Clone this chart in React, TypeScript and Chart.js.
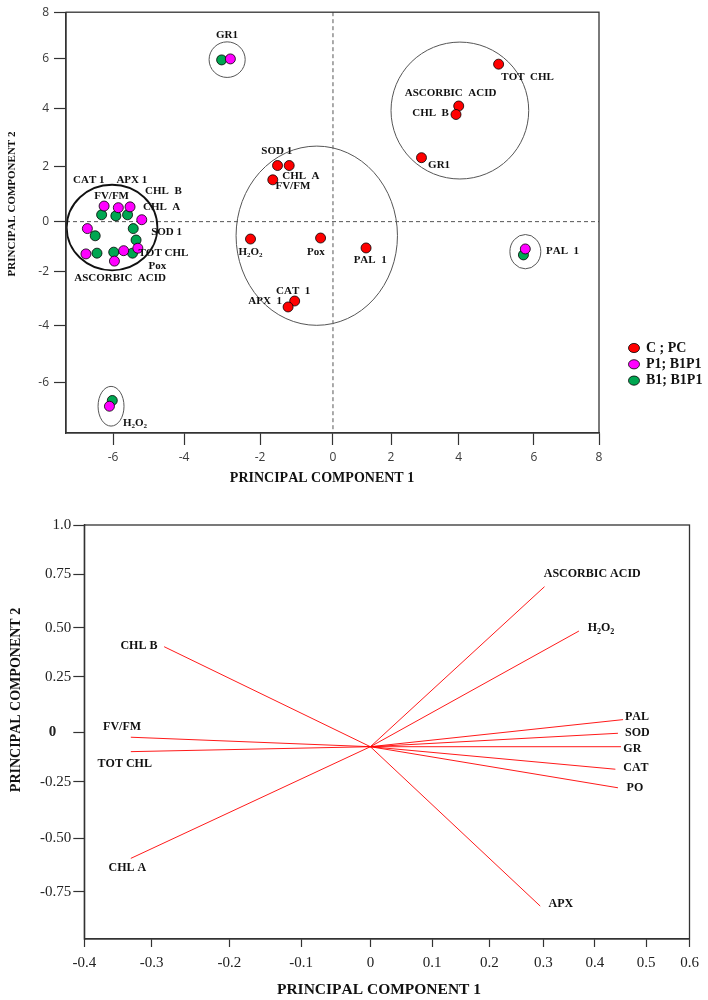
import React, { useEffect, useRef } from 'react';
import { Chart, LinearScale, registerables } from 'chart.js';

// ---------------- Score plot (top) data ----------------
const SERIES_NAMES = ['C ; PC', 'P1; B1P1', 'B1; B1P1'];
// variables: SOD1, CHL A, FV/FM, H2O2, Pox, TOT CHL, ASCORBIC ACID, CHL B, GR1, PAL1, CAT1, APX1
const C_PC_X = [-1.52, -1.2, -1.65, -2.25, -0.34, 5.06, 4.0, 3.92, 2.9, 1.14, -1.05, -1.23];
const C_PC_Y = [2.05, 2.05, 1.53, -0.7, -0.66, 5.79, 4.12, 3.81, 2.32, -1.06, -3.1, -3.32];
const P1_X = [-2.78, -6.25, -5.85, -5.52, -5.19, -6.72, -6.76, -5.7, -5.3, -5.96, 5.77, -6.1];
const P1_Y = [6.0, 0.57, 0.51, 0.54, 0.07, -0.28, -1.3, -1.17, -1.07, -1.59, -1.1, -6.81];
const B1_X = [-3.01, -6.32, -5.92, -5.59, -5.43, -6.5, -5.35, -6.45, -5.98, -5.45, 5.72, -6.02];
const B1_Y = [5.96, 0.25, 0.21, 0.25, -0.28, -0.57, -0.74, -1.27, -1.23, -1.27, -1.34, -6.61];

const SCORE_X_TICKS = [-6, -4, -2, 0, 2, 4, 6, 8];
const SCORE_Y_TICKS = [-6, -4, -2, 0, 2, 4, 6, 8];
const SCORE_X_TITLE = 'PRINCIPAL COMPONENT 1';
const SCORE_Y_TITLE = 'PRINCIPAL COMPONENT 2';

// ---------------- Loading plot (bottom) data ----------------
const LOAD_NAMES = ['CHL B', 'FV/FM', 'TOT CHL', 'CHL A', 'ASCORBIC ACID', 'H₂O₂', 'PAL', 'SOD', 'GR', 'CAT', 'PO', 'APX'];
const LOAD_PC1 = [-0.284, -0.331, -0.331, -0.331, 0.302, 0.369, 0.455, 0.445, 0.451, 0.44, 0.445, 0.294];
const LOAD_PC2 = [0.403, -0.025, -0.098, -0.594, 0.691, 0.483, 0.057, -0.005, -0.073, -0.187, -0.277, -0.817];
const LOAD_ORIGIN_PC1 = 0;
const LOAD_ORIGIN_PC2 = -0.073;

const LOAD_X_TICKS = [-0.4, -0.3, -0.2, -0.1, 0, 0.1, 0.2, 0.3, 0.4, 0.5, 0.6];
const LOAD_X_LABELS = ['-0.4', '-0.3', '-0.2', '-0.1', '0', '0.1', '0.2', '0.3', '0.4', '0.5', '0.6'];
const LOAD_Y_TICKS = [1.0, 0.75, 0.5, 0.25, 0, -0.25, -0.5, -0.75];
const LOAD_Y_LABELS = ['1.0', '0.75', '0.50', '0.25', '0', '-0.25', '-0.50', '-0.75'];

// ---------------- Layout / annotation (not data) ----------------
// axis warp tables [value, fraction of axis length] reproducing the uneven tick spacing of the figure
const WARPS: Record<string, number[][]> = {
  scoreX: [[-7.32, 0], [-6, 0.0882], [-4, 0.2214], [-2, 0.364], [0, 0.5009], [2, 0.6098], [4, 0.7368], [6, 0.878], [8, 1]],
  scoreY: [[-7.74, 0], [-6, 0.119], [-4, 0.2559], [-2, 0.3843], [0, 0.5023], [2, 0.6322], [4, 0.77], [6, 0.889], [8, 1]],
  loadX: [[-0.4, 0], [-0.3, 0.1114], [-0.2, 0.2397], [-0.1, 0.3582], [0, 0.4727], [0.1, 0.5747], [0.2, 0.6694], [0.3, 0.7587], [0.4, 0.8436], [0.5, 0.9284], [0.6, 1]],
  loadY: [[-0.97, 0], [-0.75, 0.1143], [-0.5, 0.2432], [-0.25, 0.38], [0, 0.4993], [0.25, 0.6336], [0.5, 0.7519], [0.75, 0.8816], [1, 1]],
};

const SCORE_LABELS: [string, number, number][] = [
  ['GR1', -2.87, 7.03],
  ['SOD 1', -1.54, 2.55],
  ['CHL  A', -0.88, 1.65],
  ['FV/FM', -1.1, 1.31],
  ['H₂O₂', -2.25, -1.23],
  ['Pox', -0.47, -1.23],
  ['CAT 1', -6.68, 1.53],
  ['APX 1', -5.47, 1.53],
  ['FV/FM', -6.04, 0.95],
  ['CHL  B', -4.58, 1.11],
  ['CHL  A', -4.63, 0.53],
  ['SOD 1', -4.49, -0.44],
  ['TOT CHL', -4.58, -1.26],
  ['Pox', -4.75, -1.79],
  ['ASCORBIC  ACID', -5.8, -2.27],
  ['TOT  CHL', 5.83, 5.27],
  ['ASCORBIC  ACID', 3.76, 4.62],
  ['CHL  B', 3.17, 3.86],
  ['GR1', 3.42, 2.07],
  ['PAL  1', 1.28, -1.56],
  ['PAL  1', 6.88, -1.17],
  ['CAT  1', -1.09, -2.72],
  ['APX  1', -1.86, -3.1],
  ['H₂O₂', -5.38, -7.41],
];
// [x1, x2, y1, y2, bold]
const SCORE_RINGS: [number, number, number, number, boolean][] = [
  [-3.34, -2.39, 5.26, 6.73, false],
  [-7.3, -4.75, -1.96, 1.35, true],
  [-2.63, 2.19, -4.0, 2.72, false],
  [2.0, 5.86, 1.56, 6.72, false],
  [5.36, 6.21, -1.9, -0.52, false],
  [-6.42, -5.69, -7.5, -6.12, false],
];
const LOAD_LABEL_POS: [number, number][] = [
  [-0.319, 0.408], [-0.344, 0.022], [-0.34, -0.162], [-0.336, -0.64], [0.395, 0.75], [0.412, 0.497],
  [0.482, 0.07], [0.483, -0.004], [0.473, -0.086], [0.48, -0.182], [0.478, -0.279], [0.334, -0.809],
];

const SERIES_COLORS = ['#ff0000', '#ff00ff', '#00a651'];
const SERIF = '"Liberation Serif", "Times New Roman", serif';
const SANS = '"Open Sans", "DejaVu Sans", sans-serif';

// ---------------- helpers ----------------
function interp(table: number[][], v: number, from: number, to: number) {
  const n = table.length;
  let i = 0;
  if (v >= table[n - 1][from]) i = n - 2;
  else if (v > table[0][from]) {
    while (i < n - 2 && v > table[i + 1][from]) i++;
  }
  const a = table[i];
  const b = table[i + 1];
  return a[to] + ((v - a[from]) * (b[to] - a[to])) / (b[from] - a[from]);
}

class WarpScale extends LinearScale {
  static id = 'warp';
  getPixelForValue(value: any) {
    if (value === null || value === undefined || isNaN(value)) return NaN;
    const table = WARPS[(this.options as any).warpKey];
    return this.getPixelForDecimal(interp(table, value, 0, 1));
  }
  getValueForPixel(pixel: number) {
    const table = WARPS[(this.options as any).warpKey];
    return interp(table, this.getDecimalForPixel(pixel), 1, 0);
  }
}

Chart.register(...registerables, WarpScale as any);

const SUBS: Record<string, string> = { '₀': '0', '₁': '1', '₂': '2', '₃': '3', '₄': '4' };

function drawRich(ctx: CanvasRenderingContext2D, text: string, x: number, y: number, size: number, align: string, family: string, weight = 'bold', color = '#111') {
  const parts = Array.from(text).map((ch) => (SUBS[ch] ? { t: SUBS[ch], sub: true } : { t: ch, sub: false }));
  const big = `${weight} ${size}px ${family}`;
  const small = `${weight} ${Math.round(size * 0.68)}px ${family}`;
  let total = 0;
  for (const p of parts) {
    ctx.font = p.sub ? small : big;
    total += ctx.measureText(p.t).width;
  }
  let cx = align === 'center' ? x - total / 2 : align === 'right' ? x - total : x;
  ctx.textBaseline = 'middle';
  ctx.textAlign = 'left';
  ctx.fillStyle = color;
  for (const p of parts) {
    ctx.font = p.sub ? small : big;
    ctx.fillText(p.t, cx, p.sub ? y + size * 0.28 : y);
    cx += ctx.measureText(p.t).width;
  }
}

function tickSetup(values: number[], labels: string[]) {
  return {
    afterBuildTicks: (scale: any) => {
      scale.ticks = values.map((v) => ({ value: v }));
    },
    callback: (_v: any, i: number) => labels[i],
  };
}

// ---------------- chart configs ----------------
function scoreConfig(): any {
  const xt = tickSetup(SCORE_X_TICKS, SCORE_X_TICKS.map(String));
  const yt = tickSetup(SCORE_Y_TICKS, SCORE_Y_TICKS.map(String));
  const series = [
    [C_PC_X, C_PC_Y],
    [P1_X, P1_Y],
    [B1_X, B1_Y],
  ];
  const plugin = {
    id: 'scoreDecor',
    beforeDatasetsDraw(chart: any) {
      const { ctx, chartArea: a, scales } = chart;
      const x = scales.x;
      const y = scales.y;
      ctx.save();
      ctx.setLineDash([4, 3]);
      ctx.strokeStyle = '#555';
      ctx.lineWidth = 1;
      const x0 = x.getPixelForValue(0);
      const y0 = y.getPixelForValue(0);
      ctx.beginPath();
      ctx.moveTo(x0, a.top);
      ctx.lineTo(x0, a.bottom);
      ctx.moveTo(a.left, y0);
      ctx.lineTo(a.right, y0);
      ctx.stroke();
      ctx.setLineDash([]);
      for (const [x1, x2, y1, y2, bold] of SCORE_RINGS) {
        const px1 = x.getPixelForValue(x1);
        const px2 = x.getPixelForValue(x2);
        const py1 = y.getPixelForValue(y1);
        const py2 = y.getPixelForValue(y2);
        ctx.beginPath();
        ctx.ellipse((px1 + px2) / 2, (py1 + py2) / 2, Math.abs(px2 - px1) / 2, Math.abs(py2 - py1) / 2, 0, 0, Math.PI * 2);
        ctx.strokeStyle = bold ? '#111' : '#555';
        ctx.lineWidth = bold ? 1.8 : 1;
        ctx.stroke();
      }
      ctx.restore();
    },
    afterDatasetsDraw(chart: any) {
      const { ctx, chartArea: a, scales } = chart;
      const x = scales.x;
      const y = scales.y;
      ctx.save();
      for (const [t, vx, vy] of SCORE_LABELS) {
        drawRich(ctx, t, x.getPixelForValue(vx), y.getPixelForValue(vy), 11, 'center', SERIF);
      }
      // frame
      ctx.strokeStyle = '#333';
      ctx.lineWidth = 1.3;
      ctx.strokeRect(a.left, a.top, a.right - a.left, a.bottom - a.top);
      // titles
      drawRich(ctx, SCORE_X_TITLE, 322, 478, 14, 'center', SERIF);
      ctx.save();
      ctx.translate(12, 204);
      ctx.rotate(-Math.PI / 2);
      drawRich(ctx, SCORE_Y_TITLE, 0, 0, 11, 'center', SERIF);
      ctx.restore();
      // legend
      SERIES_NAMES.forEach((name, i) => {
        const ly = 348 + i * 16.3;
        ctx.beginPath();
        ctx.ellipse(634, ly, 5.5, 4.6, 0, 0, Math.PI * 2);
        ctx.fillStyle = SERIES_COLORS[i];
        ctx.fill();
        ctx.strokeStyle = '#000';
        ctx.lineWidth = 0.8;
        ctx.stroke();
        drawRich(ctx, name, 646, ly, 14, 'left', SERIF);
      });
      ctx.restore();
    },
  };
  return {
    type: 'scatter',
    data: {
      datasets: series.map(([xs, ys], i) => ({
        label: SERIES_NAMES[i],
        data: xs.map((v, j) => ({ x: v, y: ys[j] })),
        backgroundColor: SERIES_COLORS[i],
        borderColor: '#000',
        borderWidth: 0.8,
        pointRadius: 5,
      })),
    },
    options: {
      responsive: false,
      animation: false,
      devicePixelRatio: 1,
      events: [],
      layout: { padding: { left: 0, top: 7, right: 109, bottom: 0 } },
      plugins: { legend: { display: false }, tooltip: { enabled: false } },
      scales: {
        x: {
          type: 'warp',
          warpKey: 'scoreX',
          min: -7.32,
          max: 8,
          afterBuildTicks: xt.afterBuildTicks,
          afterFit: (s: any) => {
            s.height = 62;
          },
          grid: { drawOnChartArea: false, drawTicks: true, tickLength: 12, tickColor: '#333', tickWidth: 1.2 },
          border: { display: true, color: '#333', width: 1.3 },
          ticks: { callback: xt.callback, autoSkip: false, maxRotation: 0, padding: 5, color: '#3a3a3a', font: { family: SANS, size: 12 } },
        },
        y: {
          type: 'warp',
          warpKey: 'scoreY',
          min: -7.74,
          max: 8,
          afterBuildTicks: yt.afterBuildTicks,
          afterFit: (s: any) => {
            s.width = 66;
          },
          grid: { drawOnChartArea: false, drawTicks: true, tickLength: 12, tickColor: '#333', tickWidth: 1.2 },
          border: { display: true, color: '#333', width: 1.3 },
          ticks: { callback: yt.callback, autoSkip: false, padding: 5, color: '#3a3a3a', font: { family: SANS, size: 12 } },
        },
      },
    },
    plugins: [plugin],
  };
}

function loadingConfig(): any {
  const xt = tickSetup(LOAD_X_TICKS, LOAD_X_LABELS);
  const plugin = {
    id: 'loadDecor',
    afterDatasetsDraw(chart: any) {
      const { ctx, chartArea: a, scales } = chart;
      const x = scales.x;
      const y = scales.y;
      ctx.save();
      LOAD_NAMES.forEach((name, i) => {
        const [vx, vy] = LOAD_LABEL_POS[i];
        drawRich(ctx, name, x.getPixelForValue(vx), y.getPixelForValue(vy), 12, 'center', SERIF);
      });
      ctx.strokeStyle = '#333';
      ctx.lineWidth = 1.3;
      ctx.strokeRect(a.left, a.top, a.right - a.left, a.bottom - a.top);
      drawRich(ctx, SCORE_X_TITLE, 379, 495, 15.5, 'center', SERIF);
      ctx.save();
      ctx.translate(16, 205);
      ctx.rotate(-Math.PI / 2);
      drawRich(ctx, SCORE_Y_TITLE, 0, 0, 14, 'center', SERIF);
      ctx.restore();
      ctx.restore();
    },
  };
  return {
    type: 'scatter',
    data: {
      datasets: LOAD_NAMES.map((name, i) => ({
        label: name,
        data: [
          { x: LOAD_ORIGIN_PC1, y: LOAD_ORIGIN_PC2 },
          { x: LOAD_PC1[i], y: LOAD_PC2[i] },
        ],
        showLine: true,
        borderColor: 'rgba(255,0,0,0.9)',
        borderWidth: 1,
        pointRadius: 0,
      })),
    },
    options: {
      responsive: false,
      animation: false,
      devicePixelRatio: 1,
      events: [],
      layout: { padding: { left: 0, top: 30, right: 18.5, bottom: 0 } },
      plugins: { legend: { display: false }, tooltip: { enabled: false } },
      scales: {
        x: {
          type: 'warp',
          warpKey: 'loadX',
          min: -0.4,
          max: 0.6,
          afterBuildTicks: xt.afterBuildTicks,
          afterFit: (s: any) => {
            s.height = 61;
          },
          grid: { drawOnChartArea: false, drawTicks: true, tickLength: 8, tickColor: '#333', tickWidth: 1.2 },
          border: { display: true, color: '#333', width: 1.3 },
          ticks: { callback: xt.callback, autoSkip: false, maxRotation: 0, padding: 7, color: '#222', font: { family: SERIF, size: 15 } },
        },
        y: {
          type: 'warp',
          warpKey: 'loadY',
          min: -0.97,
          max: 1.0,
          afterBuildTicks: (scale: any) => {
            scale.ticks = LOAD_Y_TICKS.map((v) => ({ value: v }));
          },
          afterFit: (s: any) => {
            s.width = 84.3;
          },
          grid: { drawOnChartArea: false, drawTicks: true, tickLength: 11, tickColor: '#333', tickWidth: 1.2 },
          border: { display: true, color: '#333', width: 1.3 },
          ticks: {
            // the zero label sits away from its tick in the figure
            callback: (_v: any, i: number) => (LOAD_Y_TICKS[i] === 0 ? LOAD_Y_LABELS[i] + '    ' : LOAD_Y_LABELS[i]),
            autoSkip: false,
            padding: 2,
            color: '#222',
            font: (c: any) => ({ family: SERIF, size: 15, weight: c.tick && c.tick.value === 0 ? 'bold' : 'normal' }),
          },
        },
      },
    },
    plugins: [plugin],
  };
}

export default function App() {
  const topRef = useRef<HTMLCanvasElement>(null);
  const botRef = useRef<HTMLCanvasElement>(null);
  useEffect(() => {
    const c1 = new Chart(topRef.current as HTMLCanvasElement, scoreConfig());
    const c2 = new Chart(botRef.current as HTMLCanvasElement, loadingConfig());
    return () => {
      c1.destroy();
      c2.destroy();
    };
  }, []);
  return (
    <div style={{ position: 'absolute', left: 0, top: 0, width: 708, height: 1000, background: '#fff' }}>
      <canvas ref={topRef} width={708} height={495} style={{ position: 'absolute', left: 0, top: 0 }} />
      <canvas ref={botRef} width={708} height={505} style={{ position: 'absolute', left: 0, top: 495 }} />
    </div>
  );
}
